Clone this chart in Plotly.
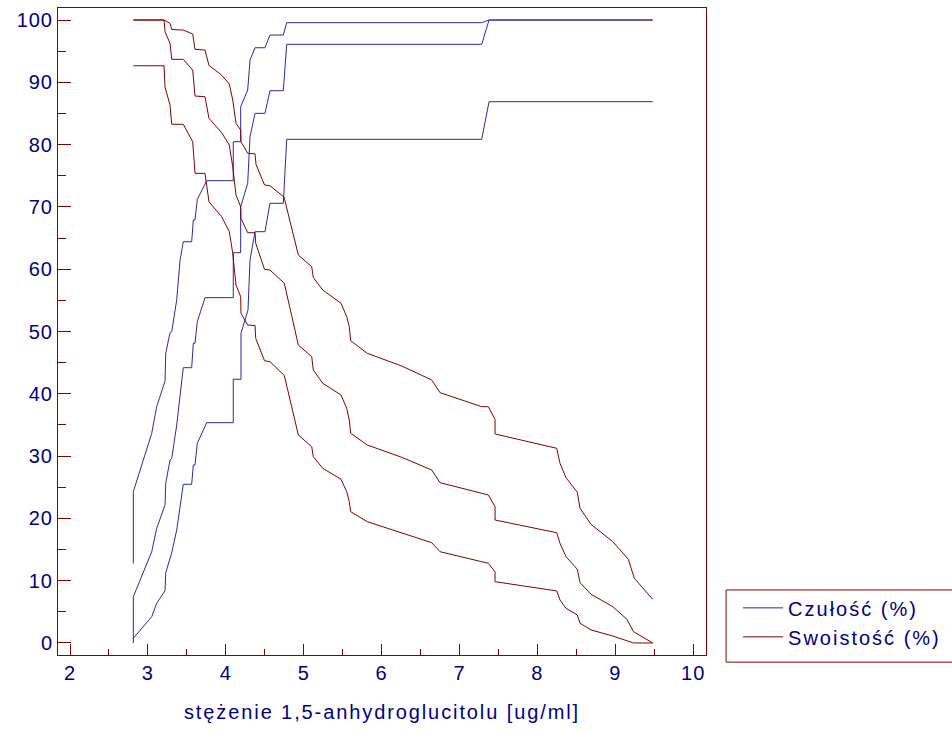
import plotly.graph_objects as go

# ---- Sensitivity (Czułość) : estimate and 95% CI ----
sens_x = [2.813, 2.813, 3.049, 3.113, 3.220, 3.229, 3.284, 3.306, 3.370, 3.412, 3.454, 3.562,
          3.583, 3.605, 3.634, 3.733, 4.096, 4.096, 4.191, 4.191, 4.281, 4.311, 4.375, 4.503,
          4.567, 4.738, 4.782, 7.285, 7.379, 9.480]
sens_est = [0.0, 7.43, 14.65, 18.41, 22.15, 25.63, 29.37, 29.65, 34.99, 39.81, 44.19, 44.19,
            48.11, 48.11, 51.57, 55.43, 55.43, 62.65, 62.65, 70.03, 73.79, 81.27, 85.02, 85.02,
            88.65, 88.65, 96.10, 96.10, 100.0, 100.0]

sens_hi_x = [2.813, 2.813, 3.049, 3.113, 3.220, 3.229, 3.284, 3.306, 3.370, 3.412, 3.454, 3.562,
             3.583, 3.605, 3.634, 3.755, 4.096, 4.096, 4.191, 4.191, 4.281, 4.311, 4.375, 4.503,
             4.567, 4.738, 4.782, 7.285, 7.379, 9.480]
sens_hi = [12.79, 24.29, 33.66, 37.93, 42.05, 46.50, 49.81, 49.97, 55.10, 61.36, 64.41, 64.41,
           67.90, 67.90, 71.22, 74.21, 74.21, 80.47, 80.47, 86.08, 88.76, 93.58, 95.55, 95.55,
           97.59, 97.59, 99.57, 99.57, 100.0, 100.0]

sens_lo_x = [2.813, 3.049, 3.113, 3.220, 3.229, 3.284, 3.306, 3.370, 3.412, 3.454, 3.562,
             3.583, 3.605, 3.634, 3.755, 4.096, 4.096, 4.195, 4.195, 4.285, 4.311, 4.375, 4.503,
             4.567, 4.738, 4.782, 7.285, 7.379, 9.480]
sens_lo = [0.75, 4.22, 6.37, 8.39, 11.28, 13.60, 14.49, 18.14, 21.67, 25.47, 25.47,
           28.57, 28.57, 32.05, 35.36, 35.36, 42.33, 42.33, 49.71, 53.45, 61.48, 66.02, 66.02,
           70.58, 70.58, 80.85, 80.85, 86.89, 86.89]

# ---- Specificity (Swoistość) : estimate and 95% CI ----
spec_hi_x = [2.813, 3.207, 3.284, 3.306, 3.454, 3.575, 3.605, 3.733, 3.784, 3.938, 4.045, 4.089,
             4.131, 4.191, 4.195, 4.281, 4.375, 4.388, 4.497, 4.567, 4.747, 4.931, 5.103, 5.123,
             5.244, 5.479, 5.552, 5.585, 5.603, 5.816, 6.258, 6.643, 6.750, 7.285, 7.370, 7.456,
             7.456, 8.248, 8.290, 8.367, 8.512, 8.547, 8.688, 8.967, 9.167, 9.244, 9.480]
spec_hi = [100.0, 100.0, 99.47, 98.47, 98.39, 97.75, 95.30, 95.18, 92.70, 91.25, 89.73, 87.16,
           83.42, 82.34, 80.47, 78.60, 78.52, 76.81, 73.52, 73.40, 71.59, 62.28, 60.40, 58.67,
           56.66, 54.53, 52.38, 50.77, 48.52, 46.50, 44.46, 42.22, 40.18, 37.93, 37.93, 35.91,
           33.55, 31.25, 28.84, 26.53, 24.19, 21.62, 19.05, 16.26, 13.43, 10.39, 7.01]

spec_x = [2.813, 3.207, 3.220, 3.284, 3.306, 3.454, 3.575, 3.605, 3.733, 3.784, 3.947, 4.045,
          4.089, 4.131, 4.191, 4.195, 4.281, 4.375, 4.384, 4.497, 4.567, 4.751, 4.931, 5.103,
          5.123, 5.244, 5.479, 5.552, 5.585, 5.603, 5.816, 6.258, 6.643, 6.750, 7.285, 7.370,
          7.456, 7.456, 8.248, 8.290, 8.367, 8.512, 8.547, 8.688, 8.967, 9.149, 9.234, 9.480]
spec_est = [100.0, 100.0, 98.12, 96.26, 93.69, 93.69, 91.97, 87.80, 87.69, 84.22, 81.91, 79.94,
            76.45, 71.91, 70.03, 68.17, 65.86, 65.86, 64.16, 59.98, 59.87, 57.74, 47.83, 45.96,
            43.82, 41.69, 39.81, 37.67, 35.79, 33.66, 31.78, 29.81, 27.77, 25.73, 24.03, 23.76,
            21.88, 19.74, 17.70, 16.00, 13.85, 11.83, 9.68, 7.82, 5.83, 3.80, 1.81, 0.0]

spec_lo_x = [2.813, 3.207, 3.220, 3.284, 3.306, 3.454, 3.575, 3.605, 3.733, 3.784, 3.947, 4.045,
             4.089, 4.131, 4.191, 4.195, 4.281, 4.375, 4.384, 4.497, 4.567, 4.751, 4.931, 5.103,
             5.123, 5.244, 5.479, 5.552, 5.585, 5.603, 5.816, 6.258, 6.643, 6.750, 7.285, 7.370,
             7.456, 7.456, 8.248, 8.290, 8.367, 8.512, 8.547, 8.688, 8.967, 9.234, 9.480]
spec_lo = [92.66, 92.66, 89.20, 86.36, 83.26, 83.26, 80.47, 75.39, 75.39, 70.83, 68.43, 66.02,
           62.55, 57.46, 55.59, 52.92, 51.04, 50.96, 48.91, 45.31, 45.15, 42.94, 33.39, 31.51,
           29.90, 28.04, 26.28, 24.29, 22.68, 21.08, 19.47, 17.61, 16.10, 14.65, 13.05, 12.79,
           11.44, 9.84, 8.35, 6.90, 5.57, 4.49, 3.16, 2.09, 1.12, 0.0, 0.0]

x_ticks = [2, 3, 4, 5, 6, 7, 8, 9, 10]
y_ticks = [0, 10, 20, 30, 40, 50, 60, 70, 80, 90, 100]
x_title = "stężenie 1,5-anhydroglucitolu [ug/ml]"
name_sens = "Czułość (%)"
name_spec = "Swoistość (%)"

BLUE = "#2a2a9c"
RED = "#800000"
NAVY = "#000080"
AXIS = "#800000"
FONT = "Liberation Sans, Arial, sans-serif"


def spaced(text, px):
    return '<span style="letter-spacing:%.1fpx">%s</span>' % (px, text)


fig = go.Figure()
for xs, ys, show in [(sens_hi_x, sens_hi, False), (sens_x, sens_est, True), (sens_lo_x, sens_lo, False)]:
    fig.add_trace(go.Scatter(x=xs, y=ys, mode="lines", line=dict(color=BLUE, width=1),
                             name=spaced(name_sens, 2.0), legendgroup="s", showlegend=show,
                             hoverinfo="skip"))
for xs, ys, show in [(spec_hi_x, spec_hi, False), (spec_x, spec_est, True), (spec_lo_x, spec_lo, False)]:
    fig.add_trace(go.Scatter(x=xs, y=ys, mode="lines", line=dict(color=RED, width=1),
                             name=spaced(name_spec, 2.0), legendgroup="p", showlegend=show,
                             hoverinfo="skip"))

fig.update_layout(
    width=952, height=731,
    margin=dict(l=58, r=246, t=8, b=76, autoexpand=False),
    paper_bgcolor="white", plot_bgcolor="white",
    font=dict(family=FONT, size=20, color=NAVY),
    showlegend=True,
    legend=dict(x=1.0495, y=0.103, xanchor="left", yanchor="top",
                bgcolor="rgba(0,0,0,0)", borderwidth=0,
                font=dict(family=FONT, size=20, color=NAVY),
                itemwidth=40, tracegroupgap=0),
    xaxis=dict(range=[1.846, 10.164], tickvals=x_ticks, ticktext=[spaced(str(v), 1.0) for v in x_ticks],
               showgrid=False, zeroline=False, showline=True, linecolor=AXIS, linewidth=1,
               mirror=True, ticks="inside", ticklen=11, tickcolor=AXIS, tickwidth=1,
               minor=dict(dtick=0.5, ticks="inside", ticklen=6, tickcolor=AXIS, tickwidth=1, showgrid=False),
               tickfont=dict(family=FONT, size=20, color=NAVY),
               title=dict(text=spaced(x_title, 1.9), font=dict(family=FONT, size=20, color=NAVY), standoff=21)),
    yaxis=dict(range=[-1.93, 101.93], tickvals=y_ticks, ticktext=[spaced(str(v), 1.0) for v in y_ticks],
               showgrid=False, zeroline=False, showline=True, linecolor=AXIS, linewidth=1,
               mirror=True, ticks="inside", ticklen=13, tickcolor=AXIS, tickwidth=1,
               minor=dict(dtick=5, ticks="inside", ticklen=8, tickcolor=AXIS, tickwidth=1, showgrid=False),
               tickfont=dict(family=FONT, size=20, color=NAVY)),
    shapes=[dict(type="rect", xref="paper", yref="paper", x0=1.031, x1=1.6, y0=-0.011, y1=0.1005,
                 line=dict(color=AXIS, width=1), fillcolor="rgba(0,0,0,0)", layer="above")],
)

fig.write_html("out.html")
